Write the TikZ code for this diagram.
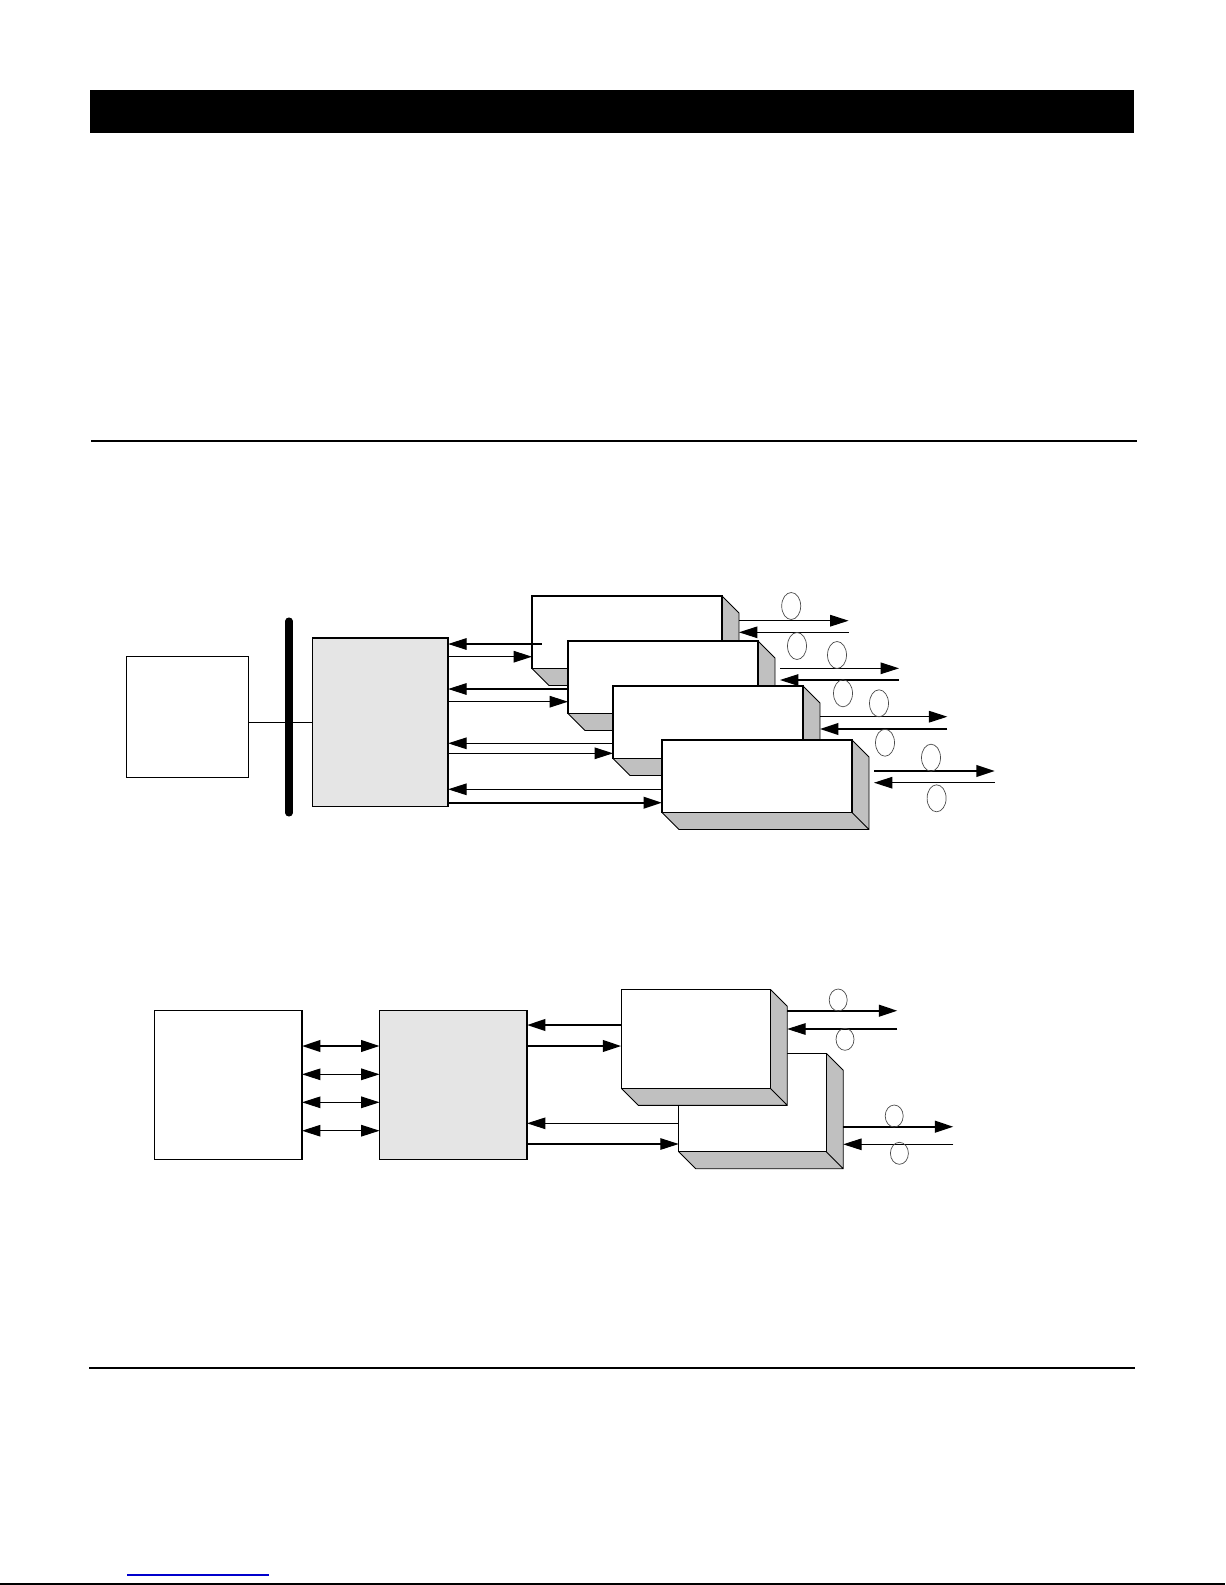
\documentclass[tikz,border=0pt]{standalone}
\usepackage{tikz}
\usetikzlibrary{arrows.meta,positioning,calc}
\definecolor{hubgray}{HTML}{E5E5E5}
\definecolor{shdgray}{HTML}{C0C0C0}
\definecolor{linkblue}{RGB}{0,0,204}
\newcommand{\slab}[5]{%
\fill[shdgray] (#2,#5)--(#2+17,#5+17)--(#4+17,#5+17)--(#4+17,#3+17)--(#4,#3)--cycle;
\draw[rim] (#2,#5)--(#2+17,#5+17)--(#4+17,#5+17)--(#4+17,#3+17)--(#4,#3) (#4,#5)--(#4+17,#5+17);
\node[front,minimum width={(#4-#2)*0.02cm},minimum height={(#5-#3)*0.02cm}] (#1) at ({(#2+#4)/2},{(#3+#5)/2}) {};
\coordinate (#1-r) at (#4+17,{(#3+#5)/2});
}

\begin{document}
\begin{tikzpicture}[x=0.02cm,y=-0.02cm,line cap=butt,line join=miter,
  blk/.style={draw,line width=.8pt,fill=white,inner sep=0pt,outer sep=0pt},
  hubbox/.style={blk,fill=hubgray},
  front/.style={blk,line width=.7pt},
  rim/.style={draw=black,line width=.5pt},
  wire/.style={line width=.9pt},
  bus/.style={line width=4pt,line cap=round},
  arr/.style={-{Triangle[length=10.5pt,width=6.6pt]},line width=.6pt},
  arrb/.style={arr,line width=1.2pt},
  dbl/.style={{Triangle[length=10.5pt,width=6.6pt]}-{Triangle[length=10.5pt,width=6.6pt]},line width=.6pt},
  dblb/.style={dbl,line width=1.2pt},
  lamp/.style={draw=black!70,line width=.4pt}]
\path[use as bounding box] (0,0) rectangle (1225,1585);
\fill (90,90) rectangle (1134,132.7);
\draw[line width=1.2pt] (91,441) -- (1137,441);
\draw[line width=1.2pt] (89,1368) -- (1135,1368);
\draw[linkblue,line width=.8pt] (127,1575) -- (269,1575);
\draw[line width=.8pt] (0,1584) -- (1225,1584);

\node[blk,minimum width=2.43cm,minimum height=2.42cm] (src) at (187.5,717.2) {};
\node[hubbox,minimum width=2.71cm,minimum height=3.37cm] (hub) at (380.4,722.4) {};
\coordinate (bust) at (289,621);
\coordinate (busb) at (289,813);
\draw[bus] (bust) -- (busb);
\draw[wire] (src.east |- hub.west) -- (hub.west);

\slab{bxA}{532}{596}{722}{668.5}
\slab{bxB}{568}{641}{758}{713.5}
\slab{bxC}{613}{686}{803}{758.5}
\slab{bxD}{662}{740}{852}{812.5}

\draw[arr] ($(bxA.west |- 0,644)+(9.7,0)$) -- (hub.east |- 0,644);
\draw[arr] (hub.east |- 0,656.7) -- (bxA.west |- 0,656.7);
\draw[arr] (bxB.west |- 0,689) -- (hub.east |- 0,689);
\draw[arr] (hub.east |- 0,701.7) -- (bxB.west |- 0,701.7);
\draw[arr] (bxC.west |- 0,743.3) -- (hub.east |- 0,743.3);
\draw[arr] (hub.east |- 0,753.3) -- (bxC.west |- 0,753.3);
\draw[arr] (bxD.west |- 0,789.3) -- (hub.east |- 0,789.3);
\draw[arrb] (hub.east |- 0,802.7) -- (bxD.west |- 0,802.7);

\coordinate (outA) at (848.6,620.7);
\coordinate (inA) at (848.6,632.3);
\coordinate (outB) at (899,668.3);
\coordinate (inB) at (899,680);
\coordinate (outC) at (947.4,716.7);
\coordinate (inC) at (947.4,729);
\coordinate (outD) at (994.8,771);
\coordinate (inD) at (994.8,782.7);
\draw[arr] (bxA-r |- outA) -- (outA);
\draw[arr] (inA) -- (bxA-r |- inA);
\draw[arr] ($(bxB-r |- outB)+(5,0)$) -- (outB);
\draw[arr] (inB) -- ($(bxB-r |- inB)+(5,0)$);
\draw[arr] (bxC-r |- outC) -- (outC);
\draw[arrb] (inC) -- (bxC-r |- inC);
\draw[arrb] ($(bxD-r |- outD)+(5,0)$) -- (outD);
\draw[arr] (inD) -- ($(bxD-r |- inD)+(5,0)$);

\draw[lamp] (791.2,606) ellipse [x radius=0.19cm,y radius=0.27cm];
\draw[lamp] (797,646) ellipse [x radius=0.19cm,y radius=0.27cm];
\draw[lamp] (837,655) ellipse [x radius=0.19cm,y radius=0.27cm];
\draw[lamp] (843,693.3) ellipse [x radius=0.19cm,y radius=0.27cm];
\draw[lamp] (879,703.3) ellipse [x radius=0.19cm,y radius=0.27cm];
\draw[lamp] (885,742.7) ellipse [x radius=0.19cm,y radius=0.27cm];
\draw[lamp] (931,757.7) ellipse [x radius=0.19cm,y radius=0.27cm];
\draw[lamp] (936.6,798.3) ellipse [x radius=0.19cm,y radius=0.27cm];

\node[blk,minimum width=2.95cm,minimum height=2.97cm] (src2) at (228.3,1085) {};
\node[hubbox,minimum width=2.95cm,minimum height=2.97cm] (hub2) at (453.3,1085) {};
\draw[dblb] (src2.east |- 0,1046) -- (hub2.west |- 0,1046);
\draw[dbl] (src2.east |- 0,1074.3) -- (hub2.west |- 0,1074.3);
\draw[dbl] (src2.east |- 0,1102.3) -- (hub2.west |- 0,1102.3);
\draw[dbl] (src2.east |- 0,1130.7) -- (hub2.west |- 0,1130.7);

\slab{bxF}{678.7}{1053.3}{826.2}{1151.7}
\slab{bxE}{621.2}{989.3}{770.2}{1088.3}

\draw[arrb] (bxE.west |- 0,1025) -- (hub2.east |- 0,1025);
\draw[arrb] (hub2.east |- 0,1046) -- (bxE.west |- 0,1046);
\draw[arr] (bxF.west |- 0,1123.3) -- (hub2.east |- 0,1123.3);
\draw[arr] (hub2.east |- 0,1144) -- (bxF.west |- 0,1144);

\coordinate (outE) at (897.3,1010.7);
\coordinate (inE) at (897.3,1029);
\coordinate (outF) at (953.3,1126.7);
\coordinate (inF) at (953.3,1144.3);
\draw[arrb] (bxE-r |- outE) -- (outE);
\draw[arr] (inE) -- (bxE-r |- inE);
\draw[arrb] (bxF-r |- outF) -- (outF);
\draw[arr] (inF) -- (bxF-r |- inF);

\draw[lamp] (838.2,1000) ellipse [x radius=0.18cm,y radius=0.22cm];
\draw[lamp] (845,1039.3) ellipse [x radius=0.18cm,y radius=0.22cm];
\draw[lamp] (894.2,1116) ellipse [x radius=0.18cm,y radius=0.22cm];
\draw[lamp] (899.4,1153.3) ellipse [x radius=0.18cm,y radius=0.22cm];
\end{tikzpicture}
\end{document}
